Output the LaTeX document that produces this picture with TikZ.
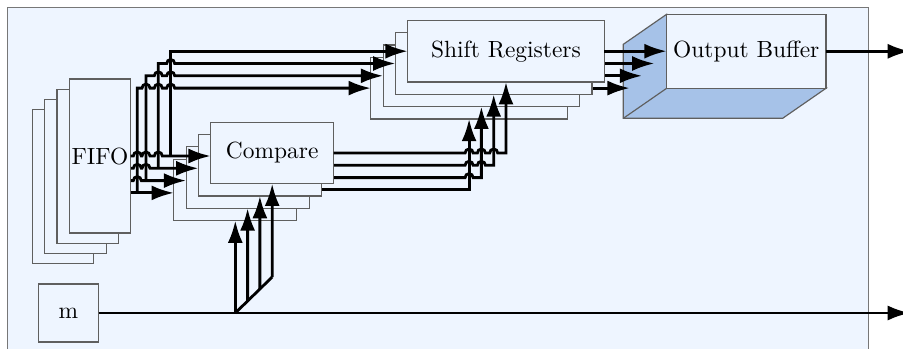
\documentclass[tikz,border=0pt]{standalone}
\usetikzlibrary{arrows.meta,calc}

\definecolor{panel}{RGB}{238,245,255}
\definecolor{sideface}{RGB}{166,194,232}
\definecolor{edge}{RGB}{95,95,95}

\pgfdeclarelayer{bg}
\pgfdeclarelayer{L3}
\pgfdeclarelayer{L2}
\pgfdeclarelayer{L1}
\pgfdeclarelayer{L0}
\pgfsetlayers{bg,L3,L2,L1,L0,main}

% small bridge where a wire crosses a vertical one
\newcommand{\crossover}[2]{-- ($(#1 |- #2)+(-0.4,0)$) arc[start angle=180,end angle=0,radius=0.4]}

\begin{document}
\begin{tikzpicture}[x=0.15cm,y=0.15cm,
    box/.style={draw=edge,line width=0.5pt,fill=panel,inner sep=0pt,outer sep=0pt},
    fifobox/.style={box,minimum width=0.921cm,minimum height=2.31cm},
    cmpbox/.style={box,minimum width=1.845cm,minimum height=0.921cm},
    srbox/.style={box,minimum width=2.949cm,minimum height=0.926cm},
    wire/.style={line width=1.2pt,-{Latex[length=9.5pt,width=6.4pt]}}]

    \useasboundingbox (0,0) rectangle (90.3,34.9);

    % back layers of the stacks
    \foreach \i in {3,2,1} {
        \begin{pgfonlayer}{L\i}
            \node[fifobox] (fifo\i) at ({10-1.23*\i},{19.3-1.03*\i}) {};
            \node[cmpbox] (cmp\i) at ({27.22-1.23*\i},{19.6-1.23*\i}) {};
            \node[srbox] (sr\i) at ({50.6-1.23*\i},{29.78-1.23*\i}) {};
        \end{pgfonlayer}
    }
    % front layer
    \begin{pgfonlayer}{L0}
        \node[fifobox] (fifo0) at (10,19.3) {FIFO};
        \node[cmpbox] (cmp0) at (27.22,19.6) {Compare};
        \node[srbox] (sr0) at (50.6,29.78) {Shift Registers};
    \end{pgfonlayer}

    % output buffer and m
    \node[box,minimum width=2.39cm,minimum height=1.11cm] (buf) at (74.63,29.77) {Output Buffer};
    \node[box,minimum width=0.906cm,minimum height=0.87cm] (m) at (6.85,3.6) {m};

    % panel and buffer sides
    \begin{pgfonlayer}{bg}
        \fill[panel] (0.75,0) rectangle (86.85,34.17);
        \draw[edge!85!white,line width=0.5pt] (0.75,0) -- (0.75,34.17) -- (86.85,34.17) -- (86.85,0);
        \draw[edge,line width=0.5pt,fill=sideface] (buf.north west) -- ++(-4.33,-3) -- ($(buf.south west)+(-4.33,-3)$)
            -- ($(buf.south east)+(-4.33,-3)$) -- (buf.south east) -- (buf.south west) -- cycle;
        \draw[edge,line width=0.5pt] (buf.south west) -- ++(-4.33,-3);
    \end{pgfonlayer}

    % wire points
    \foreach \i/\x in {0/17.07,1/15.83,2/14.6,3/13.73} {
        \coordinate (cin\i) at ($(cmp\i.west)+(0,-0.3)$);
        \coordinate (fv\i) at (\x,0 |- cin\i);
    }
    \coordinate (mb) at (cmp3.south |- m.east);
    \coordinate (md) at ($(mb)+(3.69,3.6)$);
    \coordinate (bufout) at (91,0 |- buf.east);
    \coordinate (mout) at (91,0 |- m.east);

    \begin{pgfonlayer}{L3}
        \draw[wire] (fifo3.east |- cin3) -- (cin3);
        \draw[wire] (fv3) -- (fv3 |- sr3.west) \crossover{fv2}{sr3.west} \crossover{fv1}{sr3.west} \crossover{fv0}{sr3.west} -- (sr3.west);
        \draw[wire] (cmp3.east) -| (sr3.south);
        \draw[wire] (sr3.east) -- ($(buf.west |- sr3.east)+(-3.69,0)$);
        \draw[wire] (mb) -- (cmp3.south);
    \end{pgfonlayer}

    \begin{pgfonlayer}{L2}
        \draw[wire] (fifo2.east |- cin2) \crossover{fv3}{cin2} -- (cin2);
        \draw[wire] (fv2) -- (fv2 |- sr2.west) \crossover{fv1}{sr2.west} \crossover{fv0}{sr2.west} -- (sr2.west);
        \draw[wire] (cmp2.east) \crossover{sr3.south}{cmp2.east} -- (sr2.south |- cmp2.east) -- (sr2.south);
        \draw[wire] (sr2.east) -- ($(buf.west |- sr2.east)+(-2.46,0)$);
        \draw[wire] ($(mb)!0.3333!(md)$) -- (cmp2.south);
    \end{pgfonlayer}

    \begin{pgfonlayer}{L1}
        \draw[wire] (fifo1.east |- cin1) \crossover{fv3}{cin1} \crossover{fv2}{cin1} -- (cin1);
        \draw[wire] (fv1) -- (fv1 |- sr1.west) \crossover{fv0}{sr1.west} -- (sr1.west);
        \draw[wire] (cmp1.east) \crossover{sr3.south}{cmp1.east} \crossover{sr2.south}{cmp1.east} -- (sr1.south |- cmp1.east) -- (sr1.south);
        \draw[wire] (sr1.east) -- ($(buf.west |- sr1.east)+(-1.23,0)$);
        \draw[wire] ($(mb)!0.6667!(md)$) -- (cmp1.south);
    \end{pgfonlayer}

    \begin{pgfonlayer}{L0}
        \draw[wire] (fifo0.east |- cin0) \crossover{fv3}{cin0} \crossover{fv2}{cin0} \crossover{fv1}{cin0} -- (cin0);
        \draw[wire] (fv0) |- (sr0.west);
        \draw[wire] (cmp0.east) \crossover{sr3.south}{cmp0.east} \crossover{sr2.south}{cmp0.east} \crossover{sr1.south}{cmp0.east} -- (sr0.south |- cmp0.east) -- (sr0.south);
        \draw[wire] (sr0.east) -- (buf.west |- sr0.east);
        \draw[wire] (md) -- (cmp0.south);
    \end{pgfonlayer}

    % m feeds Compare and leaves the panel
    \draw[wire] (m) -- (mout);
    \draw[line width=1.2pt] (mb) -- (md);
    \draw[wire] (buf) -- (bufout);
\end{tikzpicture}
\end{document}
